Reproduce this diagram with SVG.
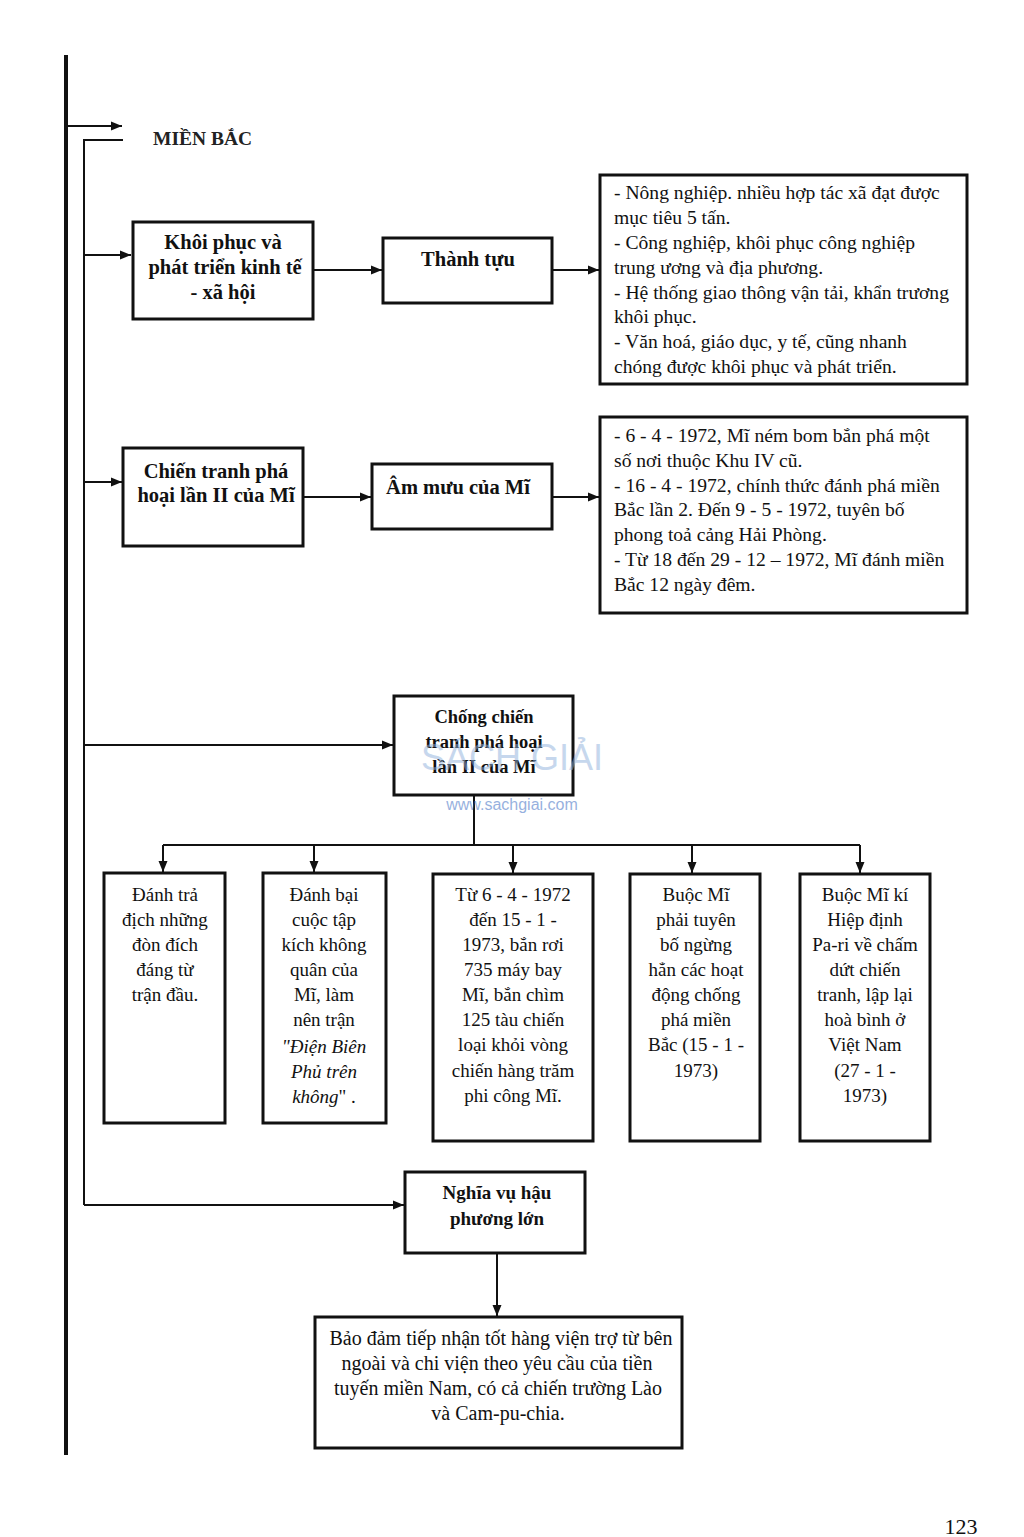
<svg xmlns="http://www.w3.org/2000/svg" width="1024" height="1537" viewBox="0 0 1024 1537">
<defs>
<marker id="ah" markerUnits="userSpaceOnUse" markerWidth="12" markerHeight="10" refX="11" refY="5" orient="auto">
<path d="M0,0.5 L11,5 L0,9.5 Z" fill="#111"/>
</marker>
</defs>
<style>
.box{fill:#fff;stroke:#111;stroke-width:3}
.ln{fill:none;stroke:#111;stroke-width:2}
.b{font-family:"Liberation Serif","DejaVu Serif",serif;font-weight:bold;font-size:20.5px;fill:#111;text-anchor:middle}
.s{font-size:18.5px}
.m{font-size:19px}
.t{font-family:"Liberation Serif","DejaVu Serif",serif;font-size:19.6px;fill:#111}
.c{font-family:"Liberation Serif","DejaVu Serif",serif;font-size:19px;fill:#111;text-anchor:middle}
.w{font-size:20px}
.i{font-style:italic}
</style>
<rect width="1024" height="1537" fill="#fff"/>

<g id="connectors">
<line x1="66" y1="55" x2="66" y2="1455" stroke="#111" stroke-width="4"/>
<line class="ln" x1="66" y1="126" x2="122" y2="126" marker-end="url(#ah)"/>
<polyline class="ln" points="123,140 84,140 84,1205"/>
<line class="ln" x1="84" y1="255" x2="131" y2="255" marker-end="url(#ah)"/>
<line class="ln" x1="313" y1="270" x2="382" y2="270" marker-end="url(#ah)"/>
<line class="ln" x1="552" y1="270" x2="599" y2="270" marker-end="url(#ah)"/>
<line class="ln" x1="84" y1="482" x2="122" y2="482" marker-end="url(#ah)"/>
<line class="ln" x1="303" y1="497" x2="371" y2="497" marker-end="url(#ah)"/>
<line class="ln" x1="552" y1="497" x2="599" y2="497" marker-end="url(#ah)"/>
<line class="ln" x1="84" y1="745" x2="393" y2="745" marker-end="url(#ah)"/>
<line class="ln" x1="474" y1="795" x2="474" y2="845"/>
<line class="ln" x1="163" y1="845" x2="860" y2="845"/>
<line class="ln" x1="163" y1="845" x2="163" y2="872" marker-end="url(#ah)"/>
<line class="ln" x1="314" y1="845" x2="314" y2="872" marker-end="url(#ah)"/>
<line class="ln" x1="513" y1="845" x2="513" y2="873" marker-end="url(#ah)"/>
<line class="ln" x1="692" y1="845" x2="692" y2="873" marker-end="url(#ah)"/>
<line class="ln" x1="860" y1="845" x2="860" y2="873" marker-end="url(#ah)"/>
<line class="ln" x1="84" y1="1205" x2="404" y2="1205" marker-end="url(#ah)"/>
<line class="ln" x1="497" y1="1253" x2="497" y2="1316" marker-end="url(#ah)"/>
</g>

<g id="title">
<text x="153" y="145" font-family="Liberation Serif, DejaVu Serif, serif" font-size="19.5" font-weight="bold" fill="#222">MIỀN BẮC</text>
</g>

<g id="n-khoiphuc">
<rect class="box" x="133" y="222" width="180" height="97"/>
<text class="b" x="223" y="249">Khôi phục và</text>
<text class="b" x="225" y="274">phát triển kinh tế</text>
<text class="b" x="223" y="299">- xã hội</text>
</g>

<g id="n-thanhtuu">
<rect class="box" x="383" y="238" width="169" height="65"/>
<text class="b" x="468" y="266">Thành tựu</text>
</g>

<g id="n-thanhtuu-detail">
<rect class="box" x="600" y="175" width="367" height="209"/>
<text class="t" x="614" y="199">- Nông nghiệp. nhiều hợp tác xã đạt được</text>
<text class="t" x="614" y="224">mục tiêu 5 tấn.</text>
<text class="t" x="614" y="249"> - Công nghiệp, khôi phục công nghiệp</text>
<text class="t" x="614" y="274">trung ương và địa phương.</text>
<text class="t" x="614" y="299">- Hệ thống giao thông vận tải, khẩn trương</text>
<text class="t" x="614" y="323">khôi phục.</text>
<text class="t" x="614" y="348">- Văn hoá, giáo dục, y tế, cũng nhanh</text>
<text class="t" x="614" y="373">chóng được khôi phục và phát triển.</text>
</g>

<g id="n-chientranh">
<rect class="box" x="123" y="448" width="180" height="98"/>
<text class="b" x="216" y="478">Chiến tranh phá</text>
<text class="b" x="216" y="502">hoại lần II của Mĩ</text>
</g>

<g id="n-ammuu">
<rect class="box" x="372" y="464" width="180" height="65"/>
<text class="b" x="458" y="494">Âm mưu của Mĩ</text>
</g>

<g id="n-ammuu-detail">
<rect class="box" x="600" y="417" width="367" height="196"/>
<text class="t" x="614" y="442">- 6 - 4 - 1972, Mĩ ném bom bắn phá một</text>
<text class="t" x="614" y="467">số nơi thuộc Khu IV cũ.</text>
<text class="t" x="614" y="492">- 16 - 4 - 1972, chính thức đánh phá miền</text>
<text class="t" x="614" y="516">Bắc lần 2. Đến 9 - 5 - 1972, tuyên bố</text>
<text class="t" x="614" y="541">phong toả cảng Hải Phòng.</text>
<text class="t" x="614" y="566">- Từ 18 đến 29 - 12 – 1972, Mĩ đánh miền</text>
<text class="t" x="614" y="591">Bắc 12 ngày đêm.</text>
</g>

<g id="n-chongchien">
<rect class="box" x="394" y="696" width="179" height="99"/>
<text class="b s" x="484" y="723">Chống chiến</text>
<text class="b s" x="484" y="748">tranh phá hoại</text>
<text class="b s" x="484" y="773">lần II của Mĩ</text>
</g>

<g id="watermark" opacity="0.5">
<text x="512" y="770" text-anchor="middle" font-family="Liberation Sans, Arial, sans-serif" font-size="36" fill="#8fb0dc">SÁCH GIẢI</text>
<text x="512" y="810" text-anchor="middle" font-family="Liberation Sans, Arial, sans-serif" font-size="16" fill="#2f64c0">www.sachgiai.com</text>
</g>

<g id="n-danhtra">
<rect class="box" x="104" y="873" width="121" height="250"/>
<text class="c" x="165" y="901">Đánh trả</text>
<text class="c" x="165" y="926">địch những</text>
<text class="c" x="165" y="951">đòn đích</text>
<text class="c" x="165" y="976">đáng từ</text>
<text class="c" x="165" y="1001">trận đầu.</text>
</g>

<g id="n-danhbai">
<rect class="box" x="263" y="873" width="123" height="250"/>
<text class="c" x="324" y="901">Đánh bại</text>
<text class="c" x="324" y="926">cuộc tập</text>
<text class="c" x="324" y="951">kích không</text>
<text class="c" x="324" y="976">quân của</text>
<text class="c" x="324" y="1001">Mĩ, làm</text>
<text class="c" x="324" y="1026">nên trận</text>
<text class="c i" x="324" y="1053">"Điện Biên</text>
<text class="c i" x="324" y="1078">Phủ trên</text>
<text class="c" x="324" y="1103"><tspan class="i">không</tspan>" .</text>
</g>

<g id="n-tu6-4">
<rect class="box" x="433" y="874" width="160" height="267"/>
<text class="c" x="513" y="901">Từ 6 - 4 - 1972</text>
<text class="c" x="513" y="926">đến 15 - 1 -</text>
<text class="c" x="513" y="951">1973,  bắn rơi</text>
<text class="c" x="513" y="976">735 máy bay</text>
<text class="c" x="513" y="1001">Mĩ, bắn chìm</text>
<text class="c" x="513" y="1026">125 tàu chiến</text>
<text class="c" x="513" y="1051">loại khỏi vòng</text>
<text class="c" x="513" y="1077">chiến hàng trăm</text>
<text class="c" x="513" y="1102">phi công Mĩ.</text>
</g>

<g id="n-buocmi1">
<rect class="box" x="630" y="874" width="130" height="267"/>
<text class="c" x="696" y="901">Buộc Mĩ</text>
<text class="c" x="696" y="926">phải tuyên</text>
<text class="c" x="696" y="951">bố ngừng</text>
<text class="c" x="696" y="976">hẳn các hoạt</text>
<text class="c" x="696" y="1001">động chống</text>
<text class="c" x="696" y="1026">phá miền</text>
<text class="c" x="696" y="1051">Bắc (15 - 1 -</text>
<text class="c" x="696" y="1077">1973)</text>
</g>

<g id="n-buocmi2">
<rect class="box" x="800" y="874" width="130" height="267"/>
<text class="c" x="865" y="901">Buộc Mĩ kí</text>
<text class="c" x="865" y="926">Hiệp định</text>
<text class="c" x="865" y="951">Pa-ri về chấm</text>
<text class="c" x="865" y="976">dứt chiến</text>
<text class="c" x="865" y="1001">tranh, lập lại</text>
<text class="c" x="865" y="1026">hoà bình ở</text>
<text class="c" x="865" y="1051">Việt Nam</text>
<text class="c" x="865" y="1077">(27 - 1 -</text>
<text class="c" x="865" y="1102">1973)</text>
</g>

<g id="n-nghiavu">
<rect class="box" x="405" y="1172" width="180" height="81"/>
<text class="b m" x="497" y="1199">Nghĩa vụ hậu</text>
<text class="b m" x="497" y="1225">phương lớn</text>
</g>

<g id="n-baodam">
<rect class="box" x="315" y="1317" width="367" height="131"/>
<text class="c w" x="501" y="1345">Bảo đảm tiếp nhận tốt hàng viện trợ từ bên</text>
<text class="c w" x="497" y="1370">ngoài và chi viện theo yêu cầu của tiền</text>
<text class="c w" x="498" y="1395">tuyến miền Nam, có cả chiến trường Lào</text>
<text class="c w" x="498" y="1420">và Cam-pu-chia.</text>
</g>

<g id="page">
<text x="961" y="1534" text-anchor="middle" font-family="Liberation Serif, DejaVu Serif, serif" font-size="22" fill="#111">123</text>
</g>
</svg>
